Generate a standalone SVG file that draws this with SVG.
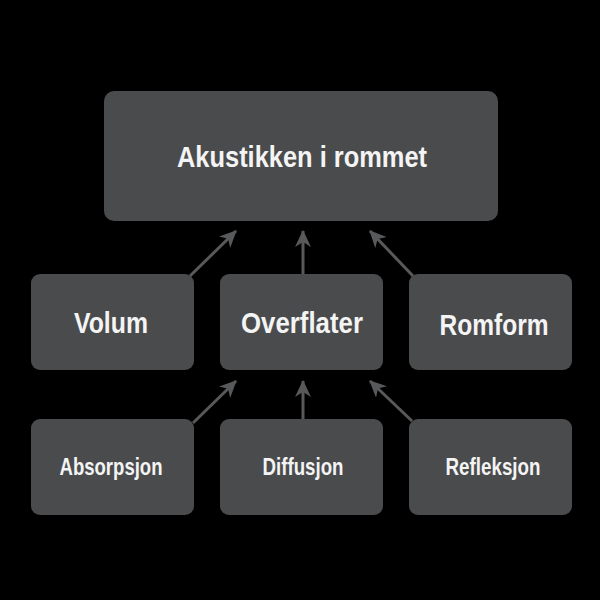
<svg xmlns="http://www.w3.org/2000/svg" width="600" height="600" viewBox="0 0 600 600">
<style>
.box{fill:#4a4b4d}
.t{font-family:"Liberation Sans",Arial,sans-serif;font-weight:bold;fill:#f4f4f4;text-anchor:middle}
.edge{stroke:#58595b;stroke-width:3;fill:none;marker-end:url(#ah)}
</style>
<defs>
<marker id="ah" markerUnits="userSpaceOnUse" markerWidth="18" markerHeight="16" refX="16" refY="8" orient="auto" viewBox="0 0 18 16">
<path d="M0,0 L17,8 L0,16 L5,8 Z" fill="#58595b"/>
</marker>
</defs>
<rect width="600" height="600" fill="#000"/>
<g id="connectors">
<line class="edge" x1="190" y1="276" x2="236" y2="231"/>
<line class="edge" x1="303" y1="274" x2="303" y2="231"/>
<line class="edge" x1="413" y1="276" x2="370" y2="231"/>
<line class="edge" x1="193" y1="423" x2="236" y2="381"/>
<line class="edge" x1="303" y1="419" x2="303" y2="381"/>
<line class="edge" x1="412" y1="421" x2="370" y2="381"/>
</g>
<g id="akustikken">
<rect class="box" x="104" y="91" width="394" height="130" rx="10"/>
<text class="t" x="302" y="167" font-size="30" textLength="250" lengthAdjust="spacingAndGlyphs">Akustikken i rommet</text>
</g>
<g id="volum">
<rect class="box" x="31" y="274" width="163" height="96" rx="9"/>
<text class="t" x="111" y="333" font-size="30" textLength="74" lengthAdjust="spacingAndGlyphs">Volum</text>
</g>
<g id="overflater">
<rect class="box" x="220" y="274" width="163" height="96" rx="9"/>
<text class="t" x="302" y="333" font-size="30" textLength="122" lengthAdjust="spacingAndGlyphs">Overflater</text>
</g>
<g id="romform">
<rect class="box" x="409" y="274" width="163" height="96" rx="9"/>
<text class="t" x="494" y="335" font-size="30" textLength="109" lengthAdjust="spacingAndGlyphs">Romform</text>
</g>
<g id="absorpsjon">
<rect class="box" x="31" y="419" width="163" height="96" rx="9"/>
<text class="t" x="111" y="475" font-size="24" textLength="103" lengthAdjust="spacingAndGlyphs">Absorpsjon</text>
</g>
<g id="diffusjon">
<rect class="box" x="220" y="419" width="163" height="96" rx="9"/>
<text class="t" x="303" y="475" font-size="24" textLength="81" lengthAdjust="spacingAndGlyphs">Diffusjon</text>
</g>
<g id="refleksjon">
<rect class="box" x="409" y="419" width="163" height="96" rx="9"/>
<text class="t" x="493" y="475" font-size="24" textLength="95" lengthAdjust="spacingAndGlyphs">Refleksjon</text>
</g>
</svg>
